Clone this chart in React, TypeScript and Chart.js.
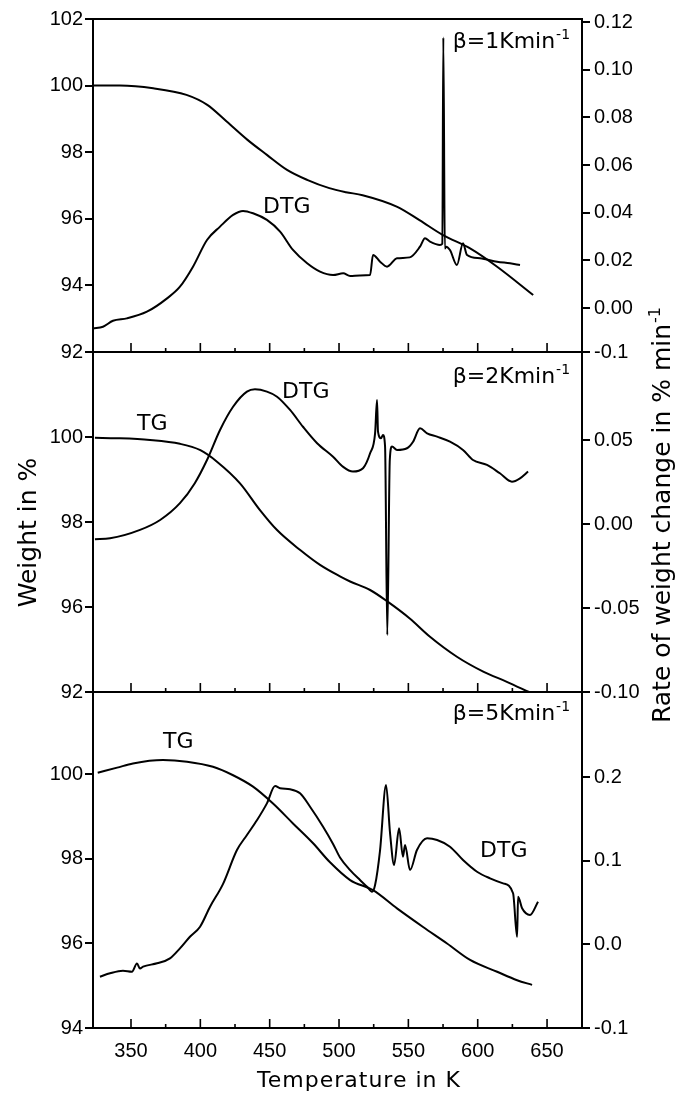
import React, { useEffect, useRef } from 'react';
import { Chart, registerables } from 'chart.js';

Chart.register(...registerables);

// ---------- shared x axis ----------
const X_MIN = 322.6;
const X_MAX = 675.2;
const X_TICKS = [350, 375, 400, 425, 450, 475, 500, 525, 550, 575, 600, 625, 650];

// ---------- panel 1 : beta = 1 K/min ----------
const TG1_T = [322.6, 342, 366, 390, 405, 419, 434, 448, 462.5, 477, 493, 505, 517, 542, 558, 575, 594.5, 614, 640];
const TG1_W = [100.0, 100.0, 99.92, 99.72, 99.42, 98.92, 98.37, 97.92, 97.47, 97.17, 96.92, 96.8, 96.71, 96.36, 95.96, 95.51, 95.11, 94.56, 93.71];
const DTG1_T = [322.6, 329.8, 337, 347, 361.5, 376, 385.3, 394.7, 404.8, 414.2, 423.6, 430.8, 438, 448, 457.5, 466.8, 477, 486.3, 495.7, 503, 508, 515, 522.4, 524.5, 529.6, 534.6, 541.8, 551, 558.4, 562, 565.6, 572.8, 574.5, 575.2, 576.3, 577.2, 580, 585, 589.4, 592.3, 601.7, 614, 623.3, 630.5];
const DTG1_R = [-0.0085, -0.0078, -0.0053, -0.0043, -0.0015, 0.0041, 0.009, 0.0174, 0.0286, 0.0342, 0.0391, 0.0408, 0.0398, 0.037, 0.0321, 0.0244, 0.0188, 0.0153, 0.0139, 0.0146, 0.0135, 0.0137, 0.0139, 0.0223, 0.0195, 0.0174, 0.0209, 0.0213, 0.0258, 0.0293, 0.0279, 0.0265, 0.027, 0.1135, 0.025, 0.0258, 0.0244, 0.0181, 0.0272, 0.0223, 0.0209, 0.0195, 0.0188, 0.0181];

// ---------- panel 2 : beta = 2 K/min ----------
const TG2_T = [324, 340, 363.7, 385.3, 400, 412, 428.6, 443, 455.3, 472, 486.3, 500.7, 508, 522.4, 535.3, 551, 565.6, 585, 604, 621, 637];
const TG2_W = [99.98, 99.97, 99.93, 99.84, 99.69, 99.42, 98.91, 98.28, 97.81, 97.34, 96.99, 96.72, 96.6, 96.4, 96.12, 95.73, 95.3, 94.83, 94.48, 94.24, 94.0];
const DTG2_T = [324, 334.9, 356.5, 371, 385.3, 396, 404.8, 414.2, 423.6, 433.6, 439.4, 448, 455.3, 464.7, 474, 484.2, 495.7, 503, 510, 517.3, 522.4, 526, 527.4, 528.1, 530.3, 531.7, 533.2, 534.8, 536.6, 538.2, 541.8, 549, 553.4, 558.4, 563.5, 570.7, 580, 589.4, 596.6, 606.7, 616, 624.7, 630.5, 636.3];
const DTG2_R = [-0.009, -0.0085, -0.0035, 0.0024, 0.0124, 0.0243, 0.0381, 0.056, 0.0698, 0.0788, 0.0802, 0.0788, 0.0758, 0.0679, 0.0579, 0.0481, 0.0401, 0.034, 0.0312, 0.0332, 0.0421, 0.054, 0.0738, 0.055, 0.0511, 0.053, 0.0461, -0.066, 0.0381, 0.0461, 0.0441, 0.0451, 0.049, 0.057, 0.054, 0.052, 0.049, 0.0441, 0.0381, 0.0352, 0.0302, 0.0252, 0.0272, 0.0312];

// ---------- panel 3 : beta = 5 K/min ----------
const TG3_T = [326, 340, 351.4, 373, 390.4, 409.1, 423.6, 438, 452.4, 466.8, 481.3, 493.5, 508, 524.5, 541.8, 560.6, 577.9, 594.5, 614, 628.4, 639.2];
const TG3_W = [100.04, 100.16, 100.26, 100.34, 100.3, 100.18, 99.98, 99.71, 99.31, 98.84, 98.37, 97.92, 97.5, 97.26, 96.83, 96.39, 96.0, 95.61, 95.33, 95.13, 95.02];
const DTG3_T = [327.6, 334.9, 344.2, 350.7, 354.3, 356.5, 358.7, 368.8, 378.1, 385.3, 392.5, 399.8, 407, 416.3, 426.4, 433.6, 440.9, 448, 453.9, 457.5, 464.7, 471.9, 479.1, 488.5, 495.7, 500.7, 508, 515.1, 520.2, 523.8, 526, 529.6, 533.9, 536.8, 539.7, 543.3, 546.1, 547.6, 551.2, 556.2, 563.5, 570.7, 580, 589.4, 599.5, 608.9, 618.3, 625.5, 628.4, 629.1, 632, 637.7, 643.5];
const DTG3_R = [-0.0387, -0.0346, -0.0315, -0.0327, -0.023, -0.029, -0.0267, -0.0227, -0.0167, -0.0048, 0.0091, 0.0211, 0.045, 0.072, 0.1127, 0.1307, 0.1486, 0.1685, 0.1892, 0.1865, 0.1853, 0.1805, 0.1645, 0.1406, 0.12, 0.1038, 0.0888, 0.0769, 0.0689, 0.0629, 0.0709, 0.1127, 0.1904, 0.1327, 0.0948, 0.1387, 0.1048, 0.1187, 0.0888, 0.1127, 0.1267, 0.1247, 0.1167, 0.1008, 0.0868, 0.0789, 0.0729, 0.061, 0.0091, 0.057, 0.0431, 0.0351, 0.051];

// ---------- axis ranges and tick labels ----------
const W1_RANGE = [92, 102];
const W1_TICKS = [92, 94, 96, 98, 100, 102];
const W1_LABELS = ['92', '94', '96', '98', '100', '102'];
const W2_RANGE = [94, 102];
const W2_TICKS = [94, 96, 98, 100];
const W2_LABELS = ['92', '96', '98', '100'];
const W3_RANGE = [94, 101.95];
const W3_TICKS = [94, 96, 98, 100];
const W3_LABELS = ['94', '96', '98', '100'];

const R1_RANGE = [-0.0184, 0.1213];
const R1_TICKS = [-0.0184, 0, 0.02, 0.04, 0.06, 0.08, 0.1, 0.12];
const R1_LABELS = ['-0.1', '0.00', '0.02', '0.04', '0.06', '0.08', '0.10', '0.12'];
const R2_RANGE = [-0.1, 0.1024];
const R2_TICKS = [-0.1, -0.05, 0, 0.05];
const R2_LABELS = ['-0.10', '-0.05', '0.00', '0.05'];
const R3_RANGE = [-0.1, 0.3016];
const R3_TICKS = [-0.1, 0, 0.1, 0.2];
const R3_LABELS = ['-0.1', '0.0', '0.1', '0.2'];

// ---------- in-plot labels (x in K, y in left-axis units of the panel) ----------
const TEXT_LABELS = [
  { text: 'DTG', axis: 'y1', x: 445.2, y: 96.17 },
  { text: 'TG', axis: 'y2', x: 354.3, y: 100.16 },
  { text: 'DTG', axis: 'y2', x: 458.9, y: 100.92 },
  { text: 'TG', axis: 'y3', x: 373.1, y: 100.62 },
  { text: 'DTG', axis: 'y3', x: 601.7, y: 98.04 },
];
const BETA_LABELS = [
  { text: 'β=1Kmin', axis: 'y1', x: 666.6, y: 101.13 },
  { text: 'β=2Kmin', axis: 'y2', x: 666.6, y: 101.27 },
  { text: 'β=5Kmin', axis: 'y3', x: 666.6, y: 101.28 },
];

const X_TITLE = 'Temperature in K';
const Y_TITLE = 'Weight in %';
const R_TITLE = 'Rate of weight change in % min';

const TICK_FONT = { family: '"Liberation Sans", Arial, sans-serif', size: 20 };
const TEXT_FONT = '"DejaVu Sans", sans-serif';

const pts = (xs: number[], ys: number[]) => xs.map((x, i) => ({ x, y: ys[i] }));

function yAxis(position: string, stack: string, stackWeight: number, weight: number, range: number[], ticks: number[], labels: string[], width: number) {
  return {
    type: 'linear',
    position,
    stack,
    stackWeight,
    weight,
    min: range[0],
    max: range[1],
    afterBuildTicks: (s: any) => { s.ticks = ticks.map((v) => ({ value: v })); },
    afterFit: (s: any) => { s.width = width; },
    ticks: {
      autoSkip: false,
      padding: position === 'left' ? 2 : 4,
      color: '#000',
      font: TICK_FONT,
      callback: (_v: any, i: number) => labels[i],
    },
    grid: { display: true, drawOnChartArea: false, drawTicks: true, tickLength: 8, color: '#000', lineWidth: 2 },
    border: { display: true, color: '#000', width: 2 },
  };
}

const line = (data: any[], yAxisID: string) => ({
  data,
  yAxisID,
  xAxisID: 'x',
  borderColor: '#000',
  borderWidth: 2,
  pointRadius: 0,
  fill: false,
  cubicInterpolationMode: 'monotone',
});

const decor = {
  id: 'decor',
  afterDraw(chart: any) {
    const ctx = chart.ctx as CanvasRenderingContext2D;
    const xs = chart.scales.x;
    const panels = [chart.scales.y1, chart.scales.y2, chart.scales.y3];
    const area = chart.chartArea;
    ctx.save();
    ctx.strokeStyle = '#000';
    ctx.fillStyle = '#000';
    // horizontal frame lines
    ctx.lineWidth = 2;
    ctx.beginPath();
    const ys = [panels[0].top, panels[0].bottom, panels[1].bottom, panels[2].bottom];
    for (const y of ys) { ctx.moveTo(area.left - 1, y); ctx.lineTo(area.right + 1, y); }
    ctx.stroke();
    // inward x ticks at bottom of each panel
    ctx.lineWidth = 1.6;
    ctx.beginPath();
    for (const p of panels) {
      for (const v of X_TICKS) {
        const px = xs.getPixelForValue(v);
        const len = v % 50 === 0 ? 9 : 4;
        ctx.moveTo(px, p.bottom);
        ctx.lineTo(px, p.bottom - len);
      }
    }
    ctx.stroke();

    // in-plot labels
    ctx.textBaseline = 'alphabetic';
    ctx.font = `22px ${TEXT_FONT}`;
    ctx.textAlign = 'left';
    for (const l of TEXT_LABELS) {
      ctx.fillText(l.text, xs.getPixelForValue(l.x), chart.scales[l.axis].getPixelForValue(l.y));
    }
    for (const b of BETA_LABELS) {
      ctx.font = `22px ${TEXT_FONT}`;
      const mw = ctx.measureText(b.text).width;
      ctx.font = `14px ${TEXT_FONT}`;
      const sw = ctx.measureText('-1').width;
      const right = xs.getPixelForValue(b.x);
      const base = chart.scales[b.axis].getPixelForValue(b.y);
      ctx.font = `22px ${TEXT_FONT}`;
      ctx.fillText(b.text, right - mw - sw - 1, base);
      ctx.font = `14px ${TEXT_FONT}`;
      ctx.fillText('-1', right - sw, base - 9);
    }

    // x title
    ctx.font = `22px ${TEXT_FONT}`;
    (ctx as any).letterSpacing = '1px';
    ctx.textAlign = 'center';
    ctx.fillText(X_TITLE, area.left + 266, chart.height - 6);
    (ctx as any).letterSpacing = '0px';

    // left title
    ctx.save();
    ctx.translate(36, (area.top + area.bottom) / 2 + 9);
    ctx.rotate(-Math.PI / 2);
    ctx.font = `25px ${TEXT_FONT}`;
    ctx.textAlign = 'center';
    ctx.fillText(Y_TITLE, 0, 0);
    ctx.restore();

    // right title
    ctx.save();
    ctx.translate(670, (area.top + area.bottom) / 2 - 8);
    ctx.rotate(-Math.PI / 2);
    ctx.font = `25px ${TEXT_FONT}`;
    const tw = ctx.measureText(R_TITLE).width;
    ctx.font = `16px ${TEXT_FONT}`;
    const supw = ctx.measureText('-1').width;
    const start = -(tw + supw) / 2;
    ctx.textAlign = 'left';
    ctx.font = `25px ${TEXT_FONT}`;
    ctx.fillText(R_TITLE, start, 0);
    ctx.font = `16px ${TEXT_FONT}`;
    ctx.fillText('-1', start + tw + 1, -10);
    ctx.restore();

    ctx.restore();
  },
};

export default function App() {
  const ref = useRef<HTMLCanvasElement>(null);
  useEffect(() => {
    if (!ref.current) return;
    const chart = new Chart(ref.current, {
      type: 'line',
      data: {
        datasets: [
          line(pts(TG1_T, TG1_W), 'y1'),
          line(pts(DTG1_T, DTG1_R), 'r1'),
          line(pts(TG2_T, TG2_W), 'y2'),
          line(pts(DTG2_T, DTG2_R), 'r2'),
          line(pts(TG3_T, TG3_W), 'y3'),
          line(pts(DTG3_T, DTG3_R), 'r3'),
        ] as any,
      },
      options: {
        responsive: false,
        animation: false,
        devicePixelRatio: 1,
        layout: { padding: { top: 19, left: 0, right: 0, bottom: 0 } },
        plugins: { legend: { display: false }, tooltip: { enabled: false } },
        scales: {
          x: {
            type: 'linear',
            position: 'bottom',
            min: X_MIN,
            max: X_MAX,
            afterBuildTicks: (s: any) => { s.ticks = X_TICKS.map((v) => ({ value: v })); },
            afterFit: (s: any) => { s.height = 65; },
            grid: { display: false, drawTicks: false },
            border: { display: false },
            ticks: {
              autoSkip: false,
              maxRotation: 0,
              minRotation: 0,
              padding: 11,
              color: '#000',
              font: TICK_FONT,
              callback: (v: any) => (Number(v) % 50 === 0 ? String(v) : ''),
            },
          },
          y1: yAxis('left', 'L', 333, 3, W1_RANGE, W1_TICKS, W1_LABELS, 93),
          y2: yAxis('left', 'L', 340, 2, W2_RANGE, W2_TICKS, W2_LABELS, 93),
          y3: yAxis('left', 'L', 336, 1, W3_RANGE, W3_TICKS, W3_LABELS, 93),
          r1: yAxis('right', 'R', 333, 1, R1_RANGE, R1_TICKS, R1_LABELS, 94),
          r2: yAxis('right', 'R', 340, 2, R2_RANGE, R2_TICKS, R2_LABELS, 94),
          r3: yAxis('right', 'R', 336, 3, R3_RANGE, R3_TICKS, R3_LABELS, 94),
        } as any,
      },
      plugins: [decor],
    });
    return () => chart.destroy();
  }, []);
  return (
    <div style={{ position: 'absolute', left: 0, top: 0, width: 676, height: 1093, background: '#fff' }}>
      <canvas ref={ref} width={676} height={1093} style={{ display: 'block', width: 676, height: 1093 }} />
    </div>
  );
}
